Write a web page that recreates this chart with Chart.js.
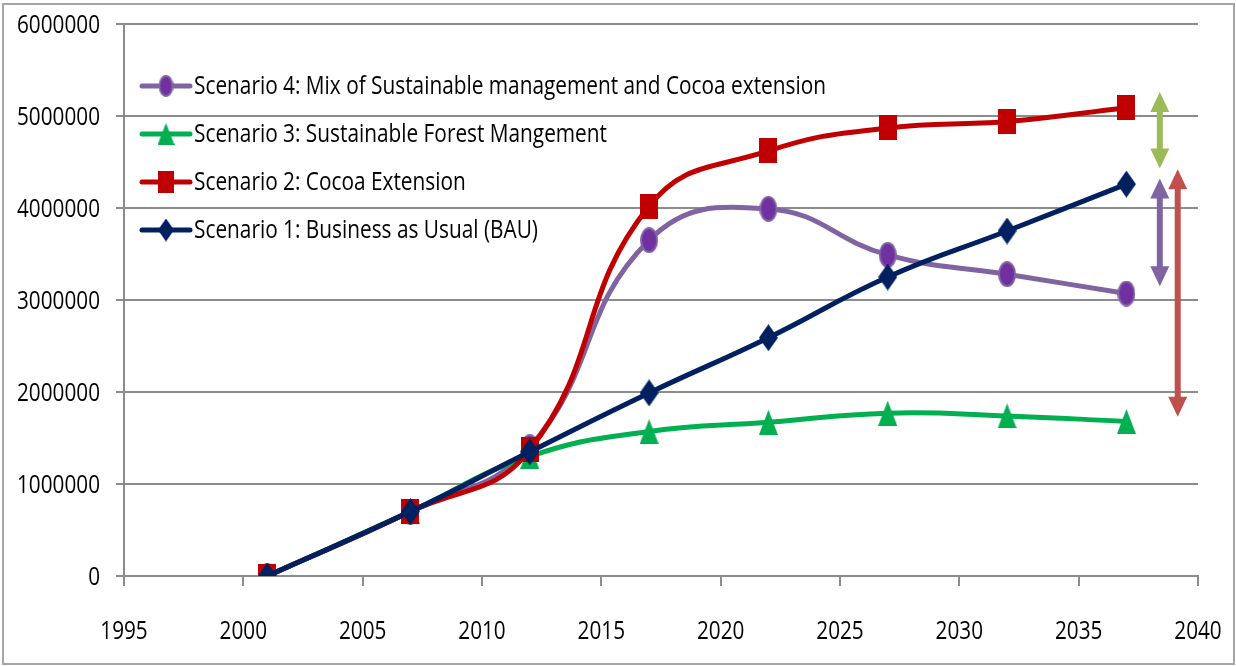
<!DOCTYPE html>
<html lang="en">
<head>
  <meta charset="UTF-8" />
  <title>Scenarios</title>
  <script src="https://cdn.jsdelivr.net/npm/chart.js"></script>
  <style>
    html, body { margin: 0; padding: 0; background: #fff; }
    canvas { display: block; }
  </style>
</head>
<body>
  <canvas id="scenarioChart" width="1236" height="666"></canvas>

  <script>
    // data
    const years = [2001, 2007, 2012, 2017, 2022, 2027, 2032, 2037];
    const bau = [0, 700000, 1350000, 1990000, 2590000, 3250000, 3750000, 4260000];
    const cocoa = [0, 700000, 1370000, 4020000, 4620000, 4870000, 4940000, 5090000];
    const forest = [0, 700000, 1300000, 1570000, 1670000, 1770000, 1740000, 1680000];
    const mix = [0, 700000, 1400000, 3650000, 3990000, 3490000, 3280000, 3070000];
    const labels = [
      'Scenario 1: Business as Usual (BAU)',
      'Scenario 2: Cocoa Extension',
      'Scenario 3: Sustainable Forest Mangement',
      'Scenario 4: Mix of Sustainable management and Cocoa extension'
    ];
    // gap arrows at the right edge (x in years, ends in values)
    const arrowX = [2038.4, 2038.4, 2039.15];
    const arrowTop = [5260000, 4320000, 4420000];
    const arrowBottom = [4430000, 3150000, 1730000];
    const arrowColors = ['#9BBB59', '#8064A2', '#C0504D'];

    const FONT = "25px 'Open Sans', 'DejaVu Sans', sans-serif";
    // the original text is squeezed sideways; widths
    const TICK_W = 83;     // width of "6000000"
    const LEGEND_W = 632;  // width of the longest legend entry

    // stretched marker images
    function makeMarker(shape, fill, stroke, w, h) {
      const c = document.createElement('canvas');
      c.width = w; c.height = h;
      const g = c.getContext('2d');
      g.fillStyle = fill;
      g.beginPath();
      if (shape === 'ellipse') {
        g.ellipse(w / 2, h / 2, w / 2 - 1, h / 2 - 1, 0, 0, Math.PI * 2);
        g.fill();
        g.lineWidth = 2; g.strokeStyle = stroke; g.stroke();
        return c;
      }
      if (shape === 'rect') g.rect(0, 0, w, h);
      if (shape === 'tri') { g.moveTo(w / 2, 0); g.lineTo(w, h); g.lineTo(0, h); g.closePath(); }
      if (shape === 'diamond') { g.moveTo(w / 2, 0); g.lineTo(w, h / 2); g.lineTo(w / 2, h); g.lineTo(0, h / 2); g.closePath(); }
      g.fill();
      return c;
    }

    const colors = ['#002060', '#C00000', '#00B050', '#8064A2'];
    const markers = [
      makeMarker('diamond', '#002060', null, 19, 27),
      makeMarker('rect', '#C00000', null, 18, 25),
      makeMarker('tri', '#00B050', null, 19, 25),
      makeMarker('ellipse', '#7030A0', '#8064A2', 18, 26)
    ];
    const legendMarkers = [
      makeMarker('diamond', '#002060', null, 16, 23),
      makeMarker('rect', '#C00000', null, 16, 22),
      makeMarker('tri', '#00B050', null, 17, 22),
      makeMarker('ellipse', '#7030A0', '#8064A2', 15, 22)
    ];

    const series = [bau, cocoa, forest, mix];

    function squeezedText(ctx, text, x, y, f, align) {
      ctx.save();
      ctx.translate(x, y);
      ctx.scale(f, 1);
      ctx.textAlign = align;
      ctx.fillText(text, 0, 0);
      ctx.restore();
    }

    // outer frame, tick labels, legend inside plot, arrows
    const extras = {
      id: 'extras',
      beforeDraw(chart) {
        const ctx = chart.ctx;
        ctx.save();
        ctx.strokeStyle = '#a6a6a6';
        ctx.lineWidth = 2;
        ctx.strokeRect(3, 4, 1231, 660);
        ctx.restore();
      },
      afterDraw(chart) {
        const ctx = chart.ctx;
        const xs = chart.scales.x, ys = chart.scales.y;
        ctx.save();
        ctx.font = FONT;
        ctx.fillStyle = '#000';
        ctx.textBaseline = 'middle';
        const f = TICK_W / ctx.measureText('6000000').width;
        ys.ticks.forEach(t => {
          squeezedText(ctx, String(t.value), xs.left - 24, ys.getPixelForValue(t.value) + 2, f, 'right');
        });
        xs.ticks.forEach(t => {
          squeezedText(ctx, String(t.value), xs.getPixelForValue(t.value), ys.bottom + 56, f, 'center');
        });
        ctx.restore();
      },
      afterDatasetsDraw(chart) {
        const ctx = chart.ctx;
        const xs = chart.scales.x, ys = chart.scales.y;
        const area = chart.chartArea;

        // legend, scenario 4 on top
        ctx.save();
        ctx.font = FONT;
        ctx.textBaseline = 'middle';
        ctx.fillStyle = '#000';
        const f = LEGEND_W / ctx.measureText(labels[3]).width;
        for (let i = 0; i < 4; i++) {
          const k = 3 - i;
          const y = area.top + 62 + i * 48;
          const x0 = area.left + 18;
          ctx.strokeStyle = colors[k];
          ctx.lineWidth = 5;
          ctx.lineCap = 'round';
          ctx.beginPath();
          ctx.moveTo(x0, y);
          ctx.lineTo(x0 + 48, y);
          ctx.stroke();
          const m = legendMarkers[k];
          ctx.drawImage(m, x0 + 24 - m.width / 2, y - m.height / 2);
          squeezedText(ctx, labels[k], x0 + 52, y + 1, f, 'left');
        }
        ctx.restore();

        // double arrows
        ctx.save();
        for (let i = 0; i < arrowX.length; i++) {
          const x = xs.getPixelForValue(arrowX[i]);
          const yt = ys.getPixelForValue(arrowTop[i]);
          const yb = ys.getPixelForValue(arrowBottom[i]);
          const head = 20, half = 9.5;
          ctx.fillStyle = arrowColors[i];
          ctx.fillRect(x - 3, yt + head - 1, 6, yb - yt - 2 * head + 2);
          ctx.beginPath();
          ctx.moveTo(x, yt); ctx.lineTo(x + half, yt + head); ctx.lineTo(x - half, yt + head); ctx.closePath();
          ctx.fill();
          ctx.beginPath();
          ctx.moveTo(x, yb); ctx.lineTo(x + half, yb - head); ctx.lineTo(x - half, yb - head); ctx.closePath();
          ctx.fill();
        }
        ctx.restore();
      }
    };

    const ctx = document.getElementById('scenarioChart').getContext('2d');
    const chart = new Chart(ctx, {
      type: 'line',
      data: {
        datasets: series.map((vals, i) => ({
          label: labels[i],
          data: years.map((yr, j) => ({ x: yr, y: vals[j] })),
          borderColor: colors[i],
          borderWidth: 5,
          tension: 0.45,
          pointStyle: markers[i],
          pointRadius: 10,
          pointHoverRadius: 10
        }))
      },
      options: {
        responsive: false,
        animation: false,
        devicePixelRatio: 1,
        layout: { padding: { top: 24, right: 38, left: 0, bottom: 0 } },
        plugins: {
          legend: { display: false },
          tooltip: { enabled: false }
        },
        scales: {
          x: {
            type: 'linear',
            min: 1995,
            max: 2040,
            afterFit(scale) { scale.height = 90; },
            ticks: { stepSize: 5, display: false },
            grid: {
              drawOnChartArea: false,
              drawTicks: true,
              tickLength: 10,
              color: '#8c8c8c',
              lineWidth: 2
            },
            border: { color: '#8c8c8c', width: 2 }
          },
          y: {
            min: 0,
            max: 6000000,
            afterFit(scale) { scale.width = 124; },
            ticks: { stepSize: 1000000, display: false },
            grid: {
              color: '#8c8c8c',
              lineWidth: 2,
              tickLength: 8
            },
            border: { color: '#8c8c8c', width: 2 }
          }
        }
      },
      plugins: [extras]
    });
  </script>
</body>
</html>
